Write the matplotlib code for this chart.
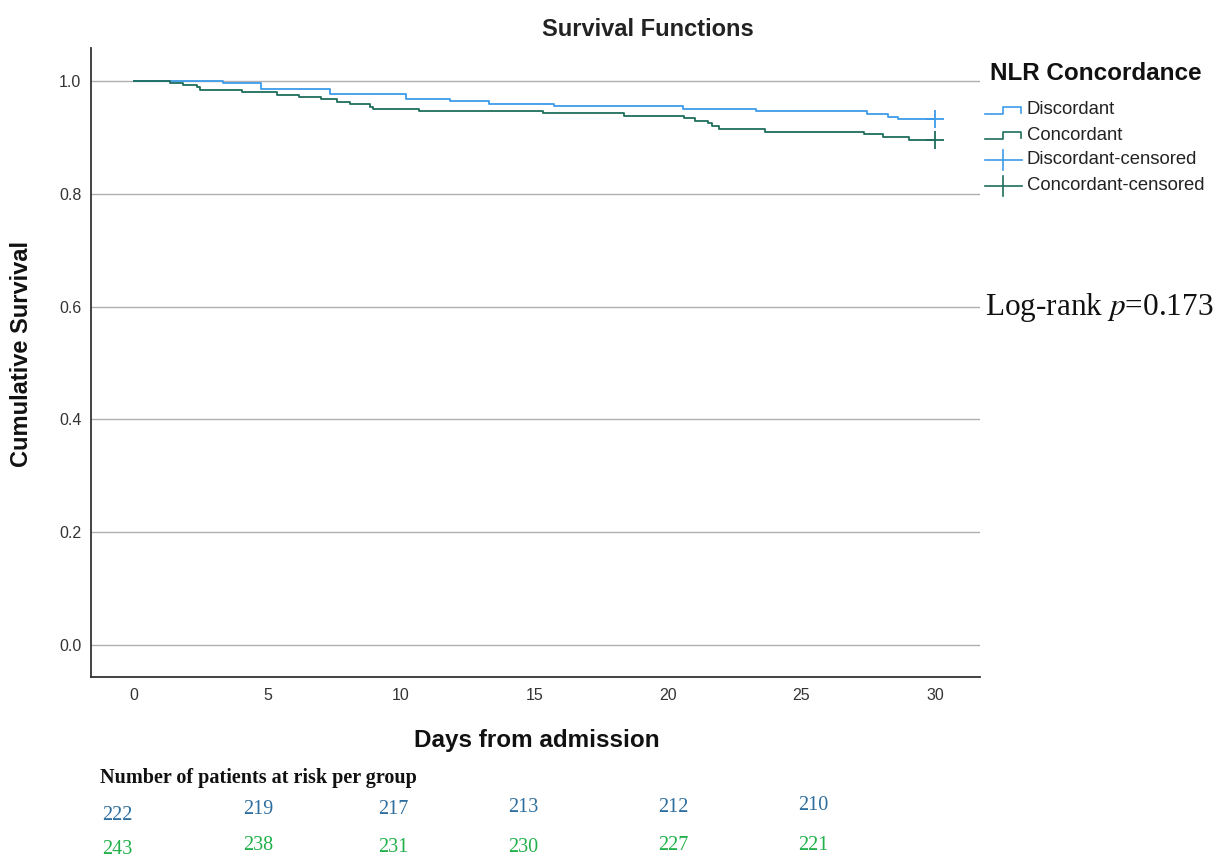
import matplotlib
matplotlib.use("Agg")
import matplotlib.pyplot as plt
from matplotlib.lines import Line2D

plt.rcParams["font.family"] = ["Liberation Sans", "DejaVu Sans"]

# Kaplan-Meier steps
disc_days = [0, 3.35, 4.75, 7.35, 10.2, 11.85, 13.3, 15.75, 20.55, 23.3, 27.45, 28.25, 28.6, 30]
disc_surv = [1.0, 0.996, 0.986, 0.977, 0.968, 0.964, 0.959, 0.955, 0.950, 0.946, 0.941, 0.937, 0.932, 0.932]

conc_days = [0, 1.35, 1.82, 2.37, 2.47, 4.03, 5.34, 6.19, 7.0, 7.59, 8.09, 8.85, 8.95,
             10.69, 15.33, 18.36, 20.6, 21.0, 21.5, 21.67, 21.9, 23.63, 27.35, 28.06, 29.04, 30]
conc_surv = [1.0, 0.997, 0.993, 0.989, 0.9835, 0.980, 0.9757, 0.9716, 0.9675, 0.963, 0.9587, 0.954, 0.950,
             0.9468, 0.9427, 0.9385, 0.934, 0.9297, 0.925, 0.920, 0.914, 0.910, 0.9055, 0.900, 0.896, 0.896]

censor_day = 30

risk_days = [0, 5, 10, 15, 20, 25]
risk_disc = [222, 219, 217, 213, 212, 210]
risk_conc = [243, 238, 231, 230, 227, 221]

blue = "#3d9be9"
green = "#1e6e5c"

fig = plt.figure(figsize=(12.14, 8.57), dpi=100)
W, H = 1214, 857


def fx(px):
    return px / W


def fy(py):
    return 1 - py / H


ax = fig.add_axes([fx(91), fy(677), fx(980) - fx(91), fy(48) - fy(677)])
ax.step(disc_days, disc_surv, where="post", color=blue, lw=1.3)
ax.step(conc_days, conc_surv, where="post", color=green, lw=1.3)
ax.plot([censor_day], [disc_surv[-1]], marker="+", ms=13, mew=1.3, color=blue, ls="none")
ax.plot([censor_day], [conc_surv[-1]], marker="+", ms=13, mew=1.3, color=green, ls="none")

ax.set_xlim(-1.61, 31.69)
ax.set_ylim(-0.057, 1.0585)
ax.set_xticks([0, 5, 10, 15, 20, 25, 30])
ax.set_yticks([0.0, 0.2, 0.4, 0.6, 0.8, 1.0])
ax.set_yticklabels(["0.0", "0.2", "0.4", "0.6", "0.8", "1.0"])
ax.tick_params(length=0, labelsize=11.5, colors="#333333")
ax.tick_params(axis="x", pad=8)
ax.tick_params(axis="y", pad=7)
ax.grid(axis="y", color="#b0b0b0", lw=1)
ax.set_axisbelow(True)
for s in ["top", "right"]:
    ax.spines[s].set_visible(False)
for s in ["left", "bottom"]:
    ax.spines[s].set_color("#333333")
    ax.spines[s].set_linewidth(1.3)

fig.text(fx(648), fy(30), "Survival Functions", ha="center", va="center",
         fontsize=17, fontweight="bold", color="#222222")
fig.text(fx(22), fy(354), "Cumulative Survival", ha="center", va="center",
         rotation=90, fontsize=17, fontweight="bold", color="#111111")
fig.text(fx(537), fy(741), "Days from admission", ha="center", va="center",
         fontsize=17.5, fontweight="bold", color="#111111")

# legend drawn by hand
fig.text(fx(990), fy(74), "NLR Concordance", ha="left", va="center",
         fontsize=17.5, fontweight="bold", color="#111111")
labels = ["Discordant", "Concordant", "Discordant-censored", "Concordant-censored"]
colors = [blue, green, blue, green]
rows = [110, 135, 160, 186]
for i, (lab, c, yy) in enumerate(zip(labels, colors, rows)):
    if i < 2:
        xs = [985, 1003, 1003, 1021, 1021]
        ys = [yy + 4, yy + 4, yy - 3, yy - 3, yy + 3]
        fig.add_artist(Line2D([fx(v) for v in xs], [fy(v) for v in ys], color=c, lw=1.2))
    else:
        fig.add_artist(Line2D([fx(985), fx(1022)], [fy(yy), fy(yy)], color=c, lw=1.2))
        fig.add_artist(Line2D([fx(1003), fx(1003)], [fy(yy - 10), fy(yy + 10)], color=c, lw=1.2))
    fig.text(fx(1027), fy(yy), lab, ha="left", va="center", fontsize=13.3, color="#222222")

fig.text(fx(985), fy(307), "Log-rank $p$=0.173", ha="left", va="center",
         fontsize=22.5, family="Liberation Serif", color="#111111",
         math_fontfamily="stix")

# risk table
fig.text(fx(100), fy(778), "Number of patients at risk per group", ha="left", va="center",
         fontsize=14.5, fontweight="bold", family="Liberation Serif", color="#111111")
risk_x = [117, 258, 393, 523, 673, 813]
disc_y = [815, 810, 810, 808, 808, 806]
conc_y = [850, 846, 847, 848, 845, 845]
for d, n1, n2, xp, y1, y2 in zip(risk_days, risk_disc, risk_conc, risk_x, disc_y, conc_y):
    fig.text(fx(xp), fy(y1), str(n1), ha="center", va="center", fontsize=14.5,
             family="Liberation Serif", color="#2e6e9e")
    fig.text(fx(xp), fy(y2), str(n2), ha="center", va="center", fontsize=14.5,
             family="Liberation Serif", color="#22b04a")

fig.savefig("out.png", dpi=100)
